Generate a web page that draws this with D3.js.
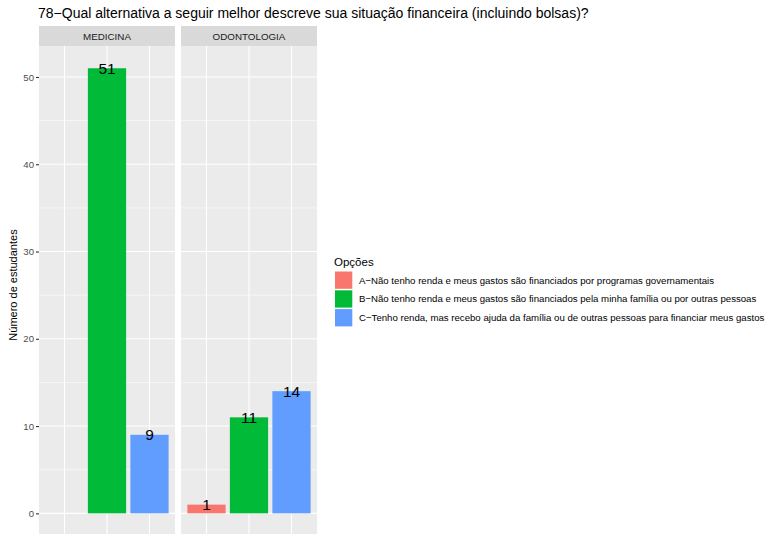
<!DOCTYPE html>
<html><head><meta charset="utf-8">
<script src="https://cdn.jsdelivr.net/npm/d3@7"></script>
<style>body{margin:0;background:#fff;font-family:"Liberation Sans",Arial,sans-serif;}</style>
</head><body><svg id="c" width="767" height="534"></svg>
<script>
const title = "78−Qual alternativa a seguir melhor descreve sua situação financeira (incluindo bolsas)?";
const panels = ["MEDICINA", "ODONTOLOGIA"];
const options = ["A", "B", "C"];
const optionLabels = [
  "A−Não tenho renda e meus gastos são financiados por programas governamentais",
  "B−Não tenho renda e meus gastos são financiados pela minha família ou por outras pessoas",
  "C−Tenho renda, mas recebo ajuda da família ou de outras pessoas para financiar meus gastos"
];
const medicinaValues = [null, 51, 9];
const odontologiaValues = [1, 11, 14];
const yTicks = [0, 10, 20, 30, 40, 50];
const colors = ["#F8766D", "#00BA38", "#619CFF"];

const svg = d3.select("#c");
const font = "'Liberation Sans', Arial, sans-serif";

const panelTop = 46, panelBottom = 535.6;
const y = d3.scaleLinear().domain([-2.55, 53.55]).range([panelBottom, panelTop]);
const panelX = [[39, 175], [181, 317]];
const valuesByPanel = [medicinaValues, odontologiaValues];

// title
svg.append("text").attr("x", 38).attr("y", 18).attr("font-family", font)
  .attr("font-size", 14).attr("fill", "#000").text(title);

panels.forEach((p, i) => {
  const [x0, x1] = panelX[i];
  const xc = d3.scalePoint().domain(options).range([x0 + (x1 - x0) * 0.6 / 3.2, x1 - (x1 - x0) * 0.6 / 3.2]);
  const bw = (x1 - x0) / 3.2 * 0.9;
  const g = svg.append("g");
  g.append("rect").attr("x", x0).attr("y", panelTop).attr("width", x1 - x0).attr("height", panelBottom - panelTop).attr("fill", "#EBEBEB");
  // strip
  g.append("rect").attr("x", x0).attr("y", 26).attr("width", x1 - x0).attr("height", 20).attr("fill", "#D9D9D9");
  g.append("text").attr("x", (x0 + x1) / 2).attr("y", 39.5).attr("text-anchor", "middle")
    .attr("font-family", font).attr("font-size", 9.8).attr("fill", "#1A1A1A").text(p);
  // minor grid
  d3.range(5, 55, 10).forEach(v => {
    g.append("line").attr("x1", x0).attr("x2", x1).attr("y1", y(v)).attr("y2", y(v)).attr("stroke", "#fff").attr("stroke-width", 0.55);
  });
  yTicks.forEach(v => {
    g.append("line").attr("x1", x0).attr("x2", x1).attr("y1", y(v)).attr("y2", y(v)).attr("stroke", "#fff").attr("stroke-width", 1.1);
  });
  options.forEach(o => {
    g.append("line").attr("x1", xc(o)).attr("x2", xc(o)).attr("y1", panelTop).attr("y2", panelBottom).attr("stroke", "#fff").attr("stroke-width", 1.1);
  });
  const vals = valuesByPanel[i];
  options.forEach((o, k) => {
    const v = vals[k];
    if (v == null) return;
    g.append("rect").attr("x", xc(o) - bw / 2).attr("y", y(v)).attr("width", bw).attr("height", y(0) - y(v)).attr("fill", colors[k]);
    g.append("text").attr("x", xc(o)).attr("y", y(v)).attr("dy", "0.36em").attr("text-anchor", "middle")
      .attr("font-family", font).attr("font-size", 15.5).attr("fill", "#000").text(v);
  });
});

// y axis
const ax = svg.append("g").attr("transform", "translate(39,0)")
  .call(d3.axisLeft(y).tickValues(yTicks).tickSize(3).tickPadding(2).tickFormat(d3.format("d")));
ax.select(".domain").remove();
ax.selectAll("line").attr("stroke", "#333").attr("stroke-width", 1.1);
ax.selectAll("text").attr("font-family", font).attr("font-size", 9.6).attr("fill", "#4D4D4D");

svg.append("text").attr("transform", "translate(17,285) rotate(-90)").attr("text-anchor", "middle")
  .attr("font-family", font).attr("font-size", 11).attr("fill", "#000").text("Número de estudantes");

// legend
svg.append("text").attr("x", 334).attr("y", 266).attr("font-family", font).attr("font-size", 11.5).attr("fill", "#000").text("Opções");
optionLabels.forEach((l, k) => {
  const ky = 271.5 + k * 18.8;
  svg.append("rect").attr("x", 335).attr("y", ky).attr("width", 17.3).attr("height", 17.3).attr("fill", colors[k]);
  svg.append("text").attr("x", 359).attr("y", ky + 8.65).attr("dy", "0.35em").attr("font-family", font)
    .attr("font-size", 9.65).attr("fill", "#000").text(l);
});
</script></body></html>
